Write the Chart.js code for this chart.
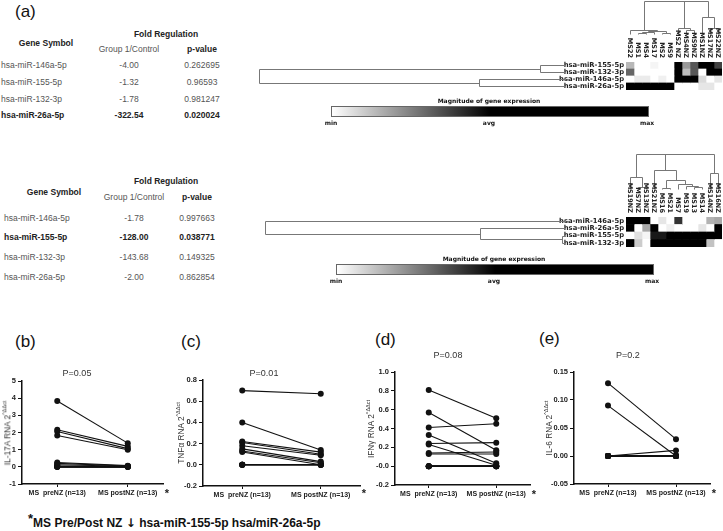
<!DOCTYPE html>
<html>
<head>
<meta charset="utf-8">
<script src="https://cdn.jsdelivr.net/npm/chart.js@4.4.1/dist/chart.umd.min.js"></script>
<style>
body{margin:0;background:#fff;width:723px;height:531px;position:relative;overflow:hidden;font-family:"Liberation Sans",Arial,sans-serif;color:#222;}
.t{position:absolute;white-space:nowrap;line-height:1;}
.c{transform:translate(-50%,-50%);}
.l{transform:translate(0,-50%);}
.tab{font-size:8.5px;color:#555;}
.tab.b{font-weight:bold;color:#222;}
.hm{font-family:"DejaVu Sans",sans-serif;font-weight:bold;font-size:6px;color:#111;filter:grayscale(1);}
.panel{font-size:17px;color:#111;}
.pv{font-size:9px;color:#333;}
.yt{font-size:8.3px;color:#333;transform:translate(-50%,-50%) rotate(-90deg);}
.yt sup{font-size:5.5px;vertical-align:4px;}
.star{font-size:11px;font-weight:bold;color:#222;}
.bar{position:absolute;border:1px solid #666;background:linear-gradient(to right,#fff 0%,#000 50%,#000 100%);}
canvas{position:absolute;}
</style>
</head>
<body>

<canvas id="heat1" width="474" height="96" style="left:249px;top:0px"></canvas>
<canvas id="heat2" width="468" height="100" style="left:255px;top:153px"></canvas>
<canvas id="chartB" width="168" height="132" style="left:0px;top:370px"></canvas>
<canvas id="chartC" width="185" height="134" style="left:180px;top:370px"></canvas>
<canvas id="chartD" width="170" height="143" style="left:365px;top:360px"></canvas>
<canvas id="chartE" width="170" height="142" style="left:545px;top:360px"></canvas>

<script>
// ---- tables (a) ----
const genes1 = ['hsa-miR-146a-5p', 'hsa-miR-155-5p', 'hsa-miR-132-3p', 'hsa-miR-26a-5p'];
const fold1 = ['-4.00', '-1.32', '-1.78', '-322.54'];
const pval1 = ['0.262695', '0.96593', '0.981247', '0.020024'];
const sig1 = 3;

const genes2 = ['hsa-miR-146a-5p', 'hsa-miR-155-5p', 'hsa-miR-132-3p', 'hsa-miR-26a-5p'];
const fold2 = ['-1.78', '-128.00', '-143.68', '-2.00'];
const pval2 = ['0.997663', '0.038771', '0.149325', '0.862854'];
const sig2 = 1;

// ---- heatmaps (0 = min, 0.5 = avg, 1 = max) ----
const heatRows1 = ['hsa-miR-155-5p', 'hsa-miR-132-3p', 'hsa-miR-146a-5p', 'hsa-miR-26a-5p'];
const heatCols1 = ['MS22', 'MS1', 'MS4', 'MS17', 'MS2', 'MS9', 'MS2 NZ', 'MS4NZ', 'MS9NZ', 'MS1NZ', 'MS17NZ', 'MS22NZ'];
const heatVals1 = [
  [0.14, 0, 0, 0.02, 0, 0, 1, 0.2, 0.33, 1, 1, 0.37],
  [0.3, 0, 0, 0, 0, 0, 1, 0.13, 0.33, 0, 1, 1],
  [0, 0.04, 0.04, 0, 0.03, 0, 1, 1, 1, 0.07, 0, 0.05],
  [1, 1, 1, 1, 1, 1, 0, 0, 0, 0.05, 0.05, 0]
];
// merges: [childA, childB, height]; indices >= leaf count refer to earlier merges
const rowTree1 = [[0, 1, 0.082], [2, 3, 0.281], [4, 5, 1]];
const colTree1 = [[1, 2, 0.045], [4, 5, 0.045], [12, 3, 0.06], [14, 13, 0.076], [0, 15, 0.12],
  [7, 8, 0.12], [6, 17, 0.18], [10, 11, 0.18], [9, 19, 0.515], [18, 20, 1], [16, 21, 1]];

const heatRows2 = ['hsa-miR-146a-5p', 'hsa-miR-26a-5p', 'hsa-miR-155-5p', 'hsa-miR-132-3p'];
const heatCols2 = ['MS19NZ', 'MS7NZ', 'MS13NZ', 'MS21NZ', 'MS16', 'MS21', 'MS7', 'MS19', 'MS13', 'MS14', 'MS14NZ', 'MS16NZ'];
const heatVals2 = [
  [1, 1, 1, 0, 0.05, 0, 0.4, 0, 0, 0, 0.15, 0.17],
  [1, 0, 0.17, 1, 0, 0.03, 0, 0, 0, 0.05, 0, 1],
  [0, 0.06, 0.02, 0.45, 0.45, 1, 1, 1, 1, 1, 1, 1],
  [1, 0.1, 0, 1, 1, 1, 1, 1, 1, 1, 0.12, 0]
];
const rowTree2 = [[2, 3, 0.01], [1, 4, 0.283], [0, 5, 1]];
const colTree2 = [[1, 2, 0.044], [0, 12, 0.353], [4, 5, 0.03], [8, 9, 0.06], [7, 15, 0.09],
  [6, 16, 0.147], [14, 17, 0.265], [3, 18, 0.53], [10, 11, 0.47], [13, 19, 1], [21, 20, 1]];

// ---- paired plots (b)-(e) ----
const groups = ['MS  preNZ (n=13)', 'MS postNZ (n=13)'];
const il17Pre  = [3.84, 2.16, 2.06, 1.83, 0.25, 0.2, 0.12, 0.05, 0.02, 0, 0, 0, 0];
const il17Post = [1.38, 1.19, 1.06, 1.0, 0.07, 0.05, 0.03, 0.02, 0, 0, 0, 0, 0];
const tnfPre   = [0.70, 0.40, 0.22, 0.21, 0.18, 0.15, 0.13, 0.12, 0, 0, 0, 0, 0];
const tnfPost  = [0.67, 0.14, 0.12, 0.10, 0.09, 0.03, 0.02, 0.0, 0, 0, 0, 0, 0];
const ifnPre   = [0.81, 0.57, 0.41, 0.33, 0.24, 0.23, 0.14, 0.13, 0, 0, 0, 0, 0];
const ifnPost  = [0.51, 0.17, 0.45, 0.03, 0.25, 0.01, 0.15, 0.13, 0, 0, 0, 0, 0];
const il6Pre   = [0.13, 0.09, 0, 0, 0, 0, 0, 0, 0, 0, 0, 0, 0];
const il6Post  = [0.03, 0.0, 0.01, 0, 0, 0, 0, 0, 0, 0, 0, 0, 0];

// ---------------------------------------------------------------
function addText(txt, x, y, cls, html) {
  const d = document.createElement('div');
  d.className = 't ' + cls;
  if (html) d.innerHTML = txt; else d.textContent = txt;
  d.style.left = x + 'px';
  d.style.top = y + 'px';
  document.body.appendChild(d);
  return d;
}

function table(genes, fold, pval, sig, o) {
  addText('Fold  Regulation', o.foldHead, o.y0, 'c tab b');
  addText('Gene Symbol', o.geneHead, o.y1, 'c tab b');
  addText('Group 1/Control', o.fold, o.y2, 'c tab');
  addText('p-value', o.p, o.y2, 'c tab b');
  genes.forEach((g, i) => {
    const b = i === sig ? ' b' : '';
    addText(g, o.name, o.rows[i], 'l tab' + b);
    addText(fold[i], o.fold, o.rows[i], 'c tab' + b);
    addText(pval[i], o.p, o.rows[i], 'c tab' + b);
  });
}

table(genes1, fold1, pval1, sig1, {foldHead: 166, geneHead: 46, fold: 129, p: 202, name: 1,
  y0: 34, y1: 43, y2: 49, rows: [65, 82, 99, 115]});
table(genes2, fold2, pval2, sig2, {foldHead: 166, geneHead: 54, fold: 134, p: 197, name: 4,
  y0: 181, y1: 192, y2: 197, rows: [218, 237, 257, 277]});

addText('(a)', 15, 11, 'l panel');

// colour bars
function colorBar(x, y, w, h) {
  const b = document.createElement('div');
  b.className = 'bar';
  b.style.left = x + 'px'; b.style.top = y + 'px';
  b.style.width = w + 'px'; b.style.height = h + 'px';
  document.body.appendChild(b);
  addText('Magnitude of gene expression', x + w / 2, y - 5, 'c hm');
  addText('min', x, y + h + 8, 'c hm');
  addText('avg', x + w / 2, y + h + 8, 'c hm');
  addText('max', x + w, y + h + 8, 'c hm');
}
colorBar(331, 106, 316, 9);
colorBar(336, 264, 316, 9);

function shade(v) {
  const l = Math.round(255 * Math.max(0, 1 - 2 * v));
  return 'rgb(' + l + ',' + l + ',' + l + ')';
}

function drawTree(ctx, merges, leafPos, toPx) {
  const pos = leafPos.slice();
  const hgt = leafPos.map(() => 0);
  const seg = (p1, h1, p2, h2) => {
    const a = toPx(p1, h1), b = toPx(p2, h2);
    ctx.moveTo(Math.round(a[0]) + 0.5, Math.round(a[1]) + 0.5);
    ctx.lineTo(Math.round(b[0]) + 0.5, Math.round(b[1]) + 0.5);
  };
  ctx.beginPath();
  merges.forEach(([a, b, h]) => {
    seg(pos[a], hgt[a], pos[a], h);
    seg(pos[b], hgt[b], pos[b], h);
    seg(pos[a], h, pos[b], h);
    pos.push((pos[a] + pos[b]) / 2);
    hgt.push(h);
  });
  ctx.stroke();
}

function heatmap(id, rows, cols, vals, rowTree, colTree, padTop, yWidth) {
  const datasets = cols.map((c, ci) => ({
    label: c,
    data: rows.map(() => [ci, ci + 1]),
    backgroundColor: rows.map((r, ri) => shade(vals[ri][ci])),
    borderWidth: 0,
    barPercentage: 1,
    categoryPercentage: 1,
    grouped: false
  }));
  const decor = {
    id: 'decor',
    afterDraw(chart) {
      const {ctx, chartArea, scales: {x, y}} = chart;
      ctx.save();
      ctx.strokeStyle = '#777';
      ctx.lineWidth = 1;
      // row dendrogram
      const leafX = chartArea.left - 61;
      const rowSpan = leafX - 10;
      drawTree(ctx, rowTree, rows.map((r, i) => y.getPixelForValue(i)),
        (p, h) => [leafX - h * rowSpan, p]);
      // column dendrogram
      const base = chartArea.top - 28;
      const colSpan = base - 1;
      drawTree(ctx, colTree, cols.map((c, i) => x.getPixelForValue(i + 0.5)),
        (p, h) => [p, base - h * colSpan]);
      // column labels
      ctx.fillStyle = '#222';
      ctx.font = 'bold 6.5px "DejaVu Sans"';
      ctx.textAlign = 'right';
      ctx.textBaseline = 'middle';
      cols.forEach((c, i) => {
        ctx.save();
        ctx.translate(x.getPixelForValue(i + 0.5), chartArea.top - 4);
        ctx.rotate(Math.PI / 2);
        ctx.fillText(c, 0, 0);
        ctx.restore();
      });
      ctx.restore();
    }
  };
  return new Chart(document.getElementById(id), {
    type: 'bar',
    data: {labels: rows, datasets},
    options: {
      indexAxis: 'y',
      responsive: false,
      animation: false,
      events: [],
      layout: {padding: {top: padTop, right: 1, bottom: 2, left: 0}},
      plugins: {legend: {display: false}, tooltip: {enabled: false}},
      scales: {
        x: {type: 'linear', min: 0, max: cols.length, display: false},
        y: {
          grid: {display: false, drawTicks: false},
          border: {display: false},
          ticks: {font: {family: 'DejaVu Sans', size: 6.8, weight: 'bold'}, color: '#222',
            padding: 2, autoSkip: false},
          afterFit: s => { s.width = yWidth; }
        }
      }
    },
    plugins: [decor]
  });
}

heatmap('heat1', heatRows1, heatCols1, heatVals1, rowTree1, colTree1, 62, 377);
heatmap('heat2', heatRows2, heatCols2, heatVals2, rowTree2, colTree2, 64, 371);

// paired plots
function paired(id, pre, post, o) {
  const datasets = pre.map((v, i) => ({
    data: [v, post[i]],
    borderColor: '#111',
    backgroundColor: '#111',
    borderWidth: 1.1,
    pointRadius: 3,
    pointBorderWidth: 0,
    pointHoverRadius: 3
  }));
  return new Chart(document.getElementById(id), {
    type: 'line',
    data: {labels: groups, datasets},
    options: {
      responsive: false,
      animation: false,
      events: [],
      layout: {padding: {top: o.padTop, right: 5, bottom: 0, left: 0}},
      plugins: {legend: {display: false}, tooltip: {enabled: false}},
      scales: {
        x: {
          offset: true,
          grid: {drawOnChartArea: false, tickLength: 3, color: '#111'},
          border: {color: '#111', width: 1.5},
          ticks: {font: {family: 'Liberation Sans', size: 7, weight: 'bold'}, color: '#222',
            padding: 2, maxRotation: 0, autoSkip: false},
          afterFit: s => { s.height = 18; }
        },
        y: {
          min: o.min, max: o.max,
          grid: {drawOnChartArea: false, tickLength: 4, color: '#111'},
          border: {color: '#111', width: 1.5},
          ticks: {stepSize: o.step, font: {family: 'Liberation Sans', size: 7.5, weight: 'bold'},
            color: '#222', padding: 2, callback: v => Number(v).toFixed(o.dec)},
          afterFit: s => { s.width = o.yWidth; }
        }
      }
    }
  });
}

paired('chartB', il17Pre, il17Post, {min: -1, max: 5, step: 1, dec: 0, padTop: 11, yWidth: 22});
paired('chartC', tnfPre, tnfPost, {min: -0.2, max: 0.8, step: 0.2, dec: 1, padTop: 10, yWidth: 23});
paired('chartD', ifnPre, ifnPost, {min: -0.2, max: 1.0, step: 0.2, dec: 1, padTop: 12, yWidth: 30});
paired('chartE', il6Pre, il6Post, {min: -0.05, max: 0.15, step: 0.05, dec: 2, padTop: 12, yWidth: 29});

// panel labels, p-values, axis titles, asterisks
addText('(b)', 15, 341, 'l panel');
addText('(c)', 181, 341, 'l panel');
addText('(d)', 375, 339, 'l panel');
addText('(e)', 539, 338, 'l panel');

addText('P=0.05', 77, 373, 'c pv');
addText('P=0.01', 264, 373, 'c pv');
addText('P=0.08', 448, 355, 'c pv');
addText('P=0.2', 628, 355, 'c pv');

addText('IL-17A RNA 2<sup>^\u0394\u0394ct</sup>', 7, 433, 'yt', true);
addText('TNF\u03b1 RNA 2<sup>^\u0394\u0394ct</sup>', 181, 433, 'yt', true);
addText('IFN\u03b3 RNA 2<sup>^\u0394\u0394ct</sup>', 371, 429, 'yt', true);
addText('IL-6 RNA 2<sup>^\u0394\u0394ct</sup>', 549, 428, 'yt', true);

addText('*', 167, 493, 'c star');
addText('*', 364, 493, 'c star');
addText('*', 534, 494, 'c star');
addText('*', 714, 493, 'c star');

addText('<span style="font-size:13px;vertical-align:4px">*</span>MS Pre/Post NZ <span style="font-family:\'DejaVu Sans\'">\u2193</span> hsa-miR-155-5p hsa/miR-26a-5p',
  28, 520, 'l', true).style.cssText += 'font-size:12px;font-weight:bold;color:#111;';
</script>
</body>
</html>
